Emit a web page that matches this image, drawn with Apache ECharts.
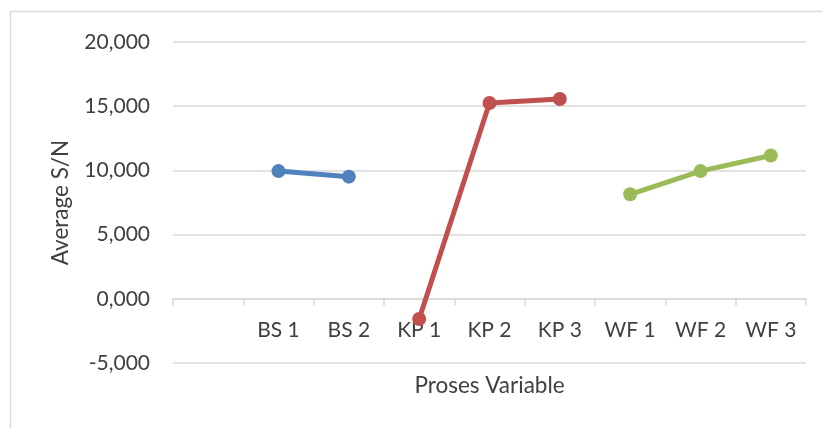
<!DOCTYPE html>
<html>
<head>
<meta charset="utf-8">
<script src="https://cdn.jsdelivr.net/npm/echarts@6/dist/echarts.min.js"></script>
<style>html,body{margin:0;padding:0;background:#fff}#c{width:822px;height:428px}</style>
</head>
<body>
<div id="c"></div>
<script>
var categories = ['', 'BS 1', 'BS 2', 'KP 1', 'KP 2', 'KP 3', 'WF 1', 'WF 2', 'WF 3'];
var bsValues = [null, 9.946, 9.512, null, null, null, null, null, null];
var kpValues = [null, null, null, -1.574, 15.248, 15.558, null, null, null];
var wfValues = [null, null, null, null, null, null, 8.140, 9.946, 11.163];
var yTicks = { min: -5, max: 20, interval: 5 };

var font = 'Lato, Open Sans, sans-serif';
function fmt(v){ return v.toFixed(3).replace('.', ','); }
function mkSeries(data, color){
  return {
    type: 'line', data: data, color: color,
    symbol: 'circle', symbolSize: 14,
    lineStyle: { width: 5, color: color },
    itemStyle: { color: color },
    connectNulls: false, z: 3
  };
}
var chart = echarts.init(document.getElementById('c'), null, { renderer: 'canvas' });
chart.setOption({
  animation: false,
  backgroundColor: '#fff',
  graphic: [{
    type: 'polyline', shape: { points: [[10.5, 428], [10.5, 11.5], [822, 11.5]] },
    style: { stroke: '#d9d9d9', lineWidth: 1.5, fill: null }, z: 0
  }],
  grid: { left: 173, right: 16, top: 42, bottom: 65, containLabel: false, outerBoundsMode: 'none' },
  xAxis: {
    type: 'category', data: categories, boundaryGap: true, position: 'bottom', offset: -64.5,
    name: 'Proses Variable', nameLocation: 'middle', nameGap: 76,
    nameTextStyle: { fontFamily: font, fontSize: 22.5, color: '#404040' },
    axisLine: { onZero: false, lineStyle: { color: '#d9d9d9', width: 1.5 } },
    axisTick: { show: true, length: 7, lineStyle: { color: '#d9d9d9', width: 1.5 } },
    axisLabel: { fontFamily: font, fontSize: 21, color: '#404040', margin: 21, interval: 0 }
  },
  yAxis: {
    type: 'value', min: yTicks.min, max: yTicks.max, interval: yTicks.interval,
    name: 'Average S/N', nameLocation: 'middle', nameGap: 101, nameRotate: 90,
    nameTextStyle: { fontFamily: font, fontSize: 22.5, color: '#404040' },
    axisLine: { show: false }, axisTick: { show: false },
    axisLabel: { fontFamily: font, fontSize: 21, color: '#404040', margin: 23, formatter: fmt },
    splitLine: { lineStyle: { color: '#d9d9d9', width: 1.5 } }
  },
  series: [
    mkSeries(bsValues, '#4F81BD'),
    mkSeries(kpValues, '#C0504D'),
    mkSeries(wfValues, '#9BBB59')
  ]
});
</script>
</body>
</html>
